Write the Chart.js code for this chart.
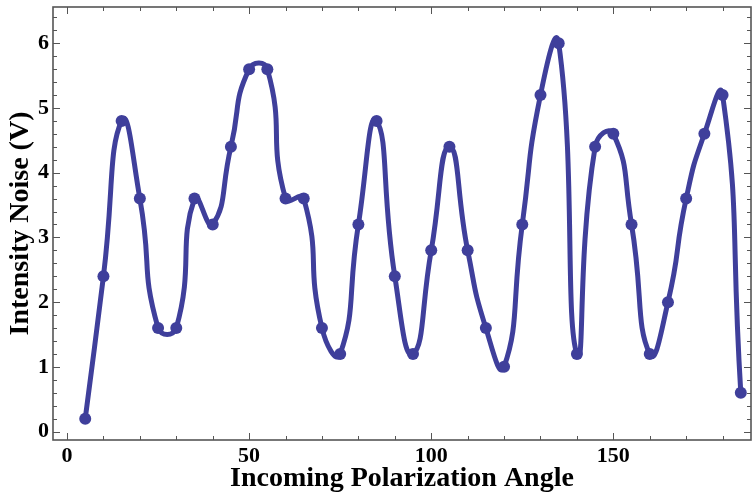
<!DOCTYPE html>
<html>
<head>
<meta charset="utf-8">
<script src="https://cdn.jsdelivr.net/npm/chart.js@4/dist/chart.umd.min.js"></script>
<style>
  html, body { margin: 0; padding: 0; background: #fff; }
  canvas { display: block; }
</style>
</head>
<body>
<canvas id="noiseChart" width="752" height="496"></canvas>
<script>
// Datos
const angles = [5, 10, 15, 20, 25, 30, 35, 40, 45, 50, 55, 60, 65, 70, 75, 80, 85, 90, 95,
                100, 105, 110, 115, 120, 125, 130, 135, 140, 145, 150, 155, 160, 165, 170, 175, 180, 185];
const noise = [0.2, 2.4, 4.8, 3.6, 1.6, 1.6, 3.6, 3.2, 4.4, 5.6, 5.6, 3.6, 3.6, 1.6, 1.2, 3.2, 4.8, 2.4, 1.2,
               2.8, 4.4, 2.8, 1.6, 1.0, 3.2, 5.2, 6.0, 1.2, 4.4, 4.6, 3.2, 1.2, 2.0, 3.6, 4.6, 5.2, 0.6];
const xTickLabels = [0, 50, 100, 150];
const yTickLabels = [0, 1, 2, 3, 4, 5, 6];

const lineColor = '#3f3f9b';
const serif = "'Liberation Serif', 'Times New Roman', serif";

// Marco con marcas hacia dentro (estilo Mathematica)
const frameTicks = {
    id: 'frameTicks',
    beforeDatasetsDraw(chart) {
        const { ctx, chartArea: a, scales: { x, y } } = chart;
        ctx.save();
        ctx.strokeStyle = '#555';
        ctx.lineWidth = 1;
        ctx.beginPath();
        for (let v = 0; v <= 180; v += 10) {
            const px = Math.round(x.getPixelForValue(v)) + 0.5;
            const len = v % 50 === 0 ? 7 : 4;
            ctx.moveTo(px, a.bottom); ctx.lineTo(px, a.bottom - len);
            ctx.moveTo(px, a.top); ctx.lineTo(px, a.top + len);
        }
        for (let i = 0; i <= 32; i++) {
            const v = i * 0.2;
            const py = Math.round(y.getPixelForValue(v)) + 0.5;
            const len = i % 5 === 0 ? 7 : 4;
            ctx.moveTo(a.left, py); ctx.lineTo(a.left + len, py);
            ctx.moveTo(a.right, py); ctx.lineTo(a.right - len, py);
        }
        ctx.stroke();
        ctx.lineWidth = 1.6;
        ctx.strokeRect(a.left, a.top, a.right - a.left, a.bottom - a.top);
        ctx.restore();
    }
};

const points = angles.map((a, i) => ({ x: a, y: noise[i] }));

new Chart(document.getElementById('noiseChart'), {
    type: 'line',
    data: {
        datasets: [{
            data: points,
            borderColor: lineColor,
            backgroundColor: lineColor,
            borderWidth: 5,
            tension: 0.55,
            pointRadius: 6,
            pointBorderWidth: 0,
            pointBackgroundColor: lineColor
        }]
    },
    options: {
        responsive: false,
        animation: false,
        layout: { autoPadding: false, padding: { top: 7, right: 1, left: 0, bottom: 0 } },
        plugins: {
            legend: { display: false },
            tooltip: { enabled: false }
        },
        scales: {
            x: {
                type: 'linear',
                min: -3.85,
                max: 187.8,
                grid: { display: false, drawTicks: false },
                border: { display: false },
                afterBuildTicks: s => { s.ticks = xTickLabels.map(v => ({ value: v })); },
                afterFit: s => { s.height = 56; s.paddingLeft = 0; s.paddingRight = 0; },
                ticks: {
                    color: '#000',
                    padding: 3,
                    maxRotation: 0,
                    font: { family: serif, size: 22, weight: 'bold' }
                },
                title: {
                    display: true,
                    text: 'Incoming Polarization Angle',
                    color: '#000',
                    padding: { top: 0, bottom: 0 },
                    font: { family: serif, size: 28, weight: 'bold', lineHeight: 1.2 }
                }
            },
            y: {
                type: 'linear',
                min: -0.13,
                max: 6.56,
                grid: { display: false, drawTicks: false },
                border: { display: false },
                afterBuildTicks: s => { s.ticks = yTickLabels.map(v => ({ value: v })); },
                afterFit: s => { s.width = 53; s.paddingTop = 0; s.paddingBottom = 0; },
                ticks: {
                    color: '#000',
                    padding: 4,
                    font: { family: serif, size: 22, weight: 'bold' }
                },
                title: {
                    display: true,
                    text: 'Intensity Noise (V)',
                    color: '#000',
                    padding: { top: 4, bottom: 0 },
                    font: { family: serif, size: 28, weight: 'bold', lineHeight: 1.2 }
                }
            }
        }
    },
    plugins: [frameTicks]
});
</script>
</body>
</html>
